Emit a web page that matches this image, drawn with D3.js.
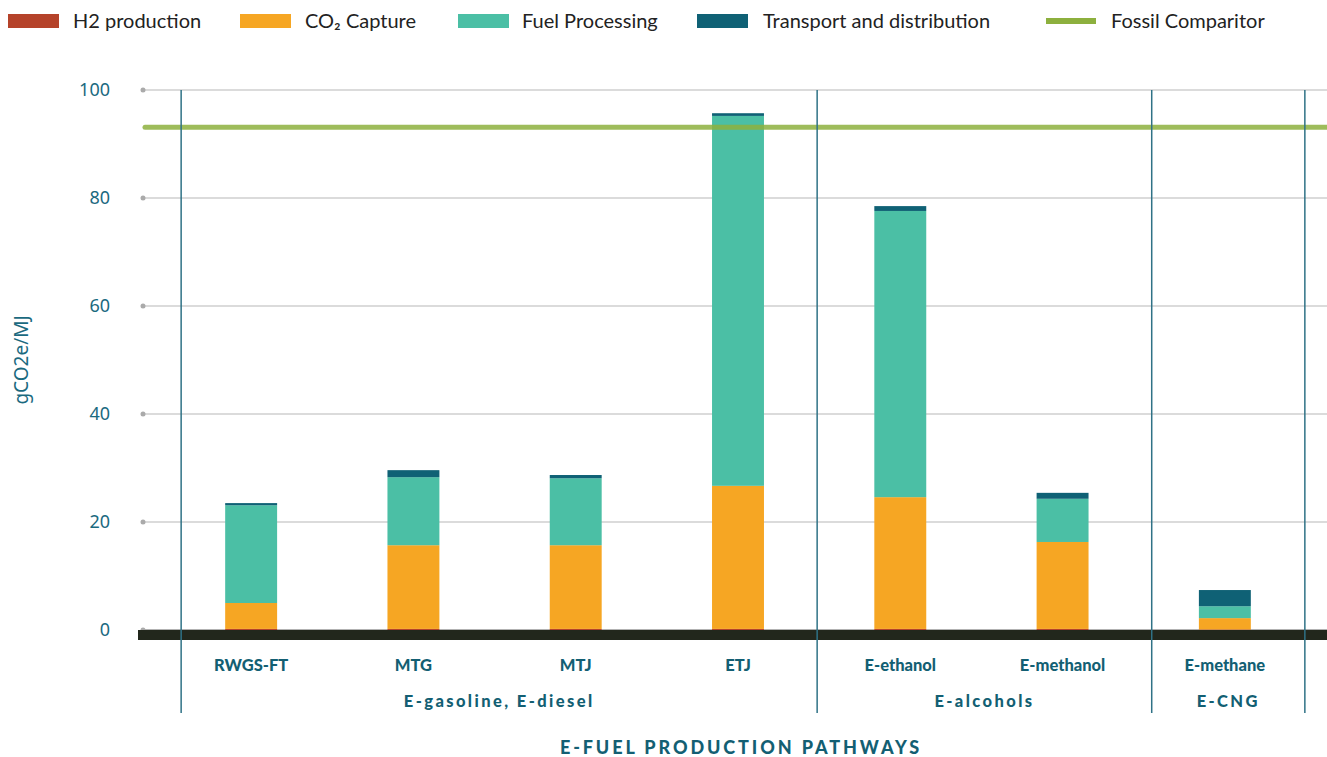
<!DOCTYPE html>
<html><head><meta charset="utf-8">
<script src="https://cdn.jsdelivr.net/npm/d3@7"></script>
<style>body{margin:0;background:#fff}svg{display:block}</style>
</head><body><svg id="c" width="1327" height="757"></svg>
<script>
const categories = ["RWGS-FT","MTG","MTJ","ETJ","E-ethanol","E-methanol","E-methane"];
const seriesNames = ["H2 production","CO₂ Capture","Fuel Processing","Transport and distribution"];
const h2Production = [0.2,0.2,0.2,0.2,0.2,0.2,0.1];
const co2Capture = [4.8,15.5,15.5,26.5,24.4,16.1,2.1];
const fuelProcessing = [18.1,12.6,12.4,68.5,53.0,8.0,2.2];
const transport = [0.4,1.3,0.6,0.5,0.9,1.1,3.0];
const fossilComparator = 93.1;
const yTicks = [0,20,40,60,80,100];
const groups = [
  {name:"E-gasoline, E-diesel", first:"RWGS-FT", last:"ETJ"},
  {name:"E-alcohols", first:"E-ethanol", last:"E-methanol"},
  {name:"E-CNG", first:"E-methane", last:"E-methane"}
];
const colors = ["#b5432a","#f6a623","#4bbfa5","#0f6175"];
const fossilColor = "#8db03e";
const teal = "#1b6a7f";

const svg = d3.select("#c");
const x = d3.scaleBand().domain(categories).range([170,1306]).paddingInner(0.68).paddingOuter(0.34);
const y = d3.scaleLinear().domain([0,100]).range([630,90]);
const cx = c => x(c) + x.bandwidth()/2;

// gridlines
const gridG = svg.append("g");
yTicks.forEach(t=>{
  gridG.append("line").attr("x1",143).attr("x2",1327).attr("y1",y(t)).attr("y2",y(t))
    .attr("stroke", t===0 ? "#999" : "#cfcfcf").attr("stroke-width",1.5);
  gridG.append("circle").attr("cx",143).attr("cy",y(t)).attr("r",2.5).attr("fill","#aaa");
});
// y axis labels
const yAxis = d3.axisLeft(y).tickValues(yTicks).tickSize(0).tickPadding(0);
const ya = svg.append("g").attr("transform","translate(110,0)").call(yAxis);
ya.select(".domain").remove();
ya.selectAll("text").attr("fill",teal).style("font-family","'Noto Sans',sans-serif").style("font-size","18px").attr("dy","0.3em");

svg.append("text").attr("transform","translate(28,360) rotate(-90)").attr("text-anchor","middle")
  .attr("fill",teal).style("font-family","'Noto Sans',sans-serif").style("font-size","19px").text("gCO2e/MJ");

// stacked bars
const rows = categories.map((c,i)=>({cat:c, s0:h2Production[i], s1:co2Capture[i], s2:fuelProcessing[i], s3:transport[i]}));
const stack = d3.stack().keys(["s0","s1","s2","s3"])(rows);
stack.forEach((layer,li)=>{
  svg.append("g").selectAll("rect").data(layer).join("rect")
    .attr("x",d=>x(d.data.cat)).attr("width",x.bandwidth())
    .attr("y",d=>y(d[1])).attr("height",d=>y(d[0])-y(d[1]))
    .attr("fill",colors[li]);
});

// fossil comparator
svg.append("line").attr("x1",145).attr("x2",1327).attr("y1",y(fossilComparator)).attr("y2",y(fossilComparator))
  .attr("stroke",fossilColor).attr("stroke-opacity",0.85).attr("stroke-width",5).attr("stroke-linecap","round");

// zero baseline
svg.append("rect").attr("x",138).attr("y",y(0)).attr("width",1327-138).attr("height",10).attr("fill","#22271c");

// group separators
const sepX = [
  cx(categories[0]) - 70,
  (cx("ETJ") + cx("E-ethanol"))/2 - 2,
  (cx("E-methanol") + cx("E-methane"))/2 + 8,
  cx("E-methane") + 80
];
sepX.forEach(sx=>{
  svg.append("line").attr("x1",sx).attr("x2",sx).attr("y1",90).attr("y2",713)
    .attr("stroke","#2f7286").attr("stroke-width",1.5);
});

// category labels
svg.append("g").selectAll("text").data(categories).join("text")
  .attr("x",d=>cx(d)).attr("y",671).attr("text-anchor","middle")
  .attr("fill","#135f73").style("font-family","Lato,sans-serif").style("font-weight","900").style("font-size","16.5px")
  .text(d=>d);

// group labels
groups.forEach((g,i)=>{
  const gx = (sepX[i]+sepX[i+1])/2;
  svg.append("text").attr("x",gx).attr("y",707).attr("text-anchor","middle")
    .attr("fill","#135f73").style("font-family","Lato,sans-serif").style("font-weight","900").style("font-size","16.5px")
    .style("letter-spacing","2.4px").text(g.name);
});

// title
svg.append("text").attr("x",741).attr("y",754).attr("text-anchor","middle")
  .attr("fill","#135f73").style("font-family","Lato,sans-serif").style("font-weight","900").style("font-size","18px")
  .style("letter-spacing","2.9px").text("E-FUEL PRODUCTION PATHWAYS");

// legend
const legend = [
  {name:seriesNames[0], color:colors[0], sx:8, tx:73},
  {name:seriesNames[1], color:colors[1], sx:240, tx:305},
  {name:seriesNames[2], color:colors[2], sx:458, tx:522},
  {name:seriesNames[3], color:colors[3], sx:697, tx:763},
  {name:"Fossil Comparitor", color:fossilColor, sx:1046, tx:1111, line:true}
];
legend.forEach(l=>{
  if(l.line) svg.append("rect").attr("x",l.sx).attr("y",18).attr("width",50).attr("height",6).attr("fill",l.color);
  else svg.append("rect").attr("x",l.sx).attr("y",14).attr("width",51).attr("height",14).attr("fill",l.color);
  svg.append("text").attr("x",l.tx).attr("y",28).attr("fill","#222")
    .style("font-family","Lato,sans-serif").style("font-size","20px").text(l.name);
});
</script></body></html>
